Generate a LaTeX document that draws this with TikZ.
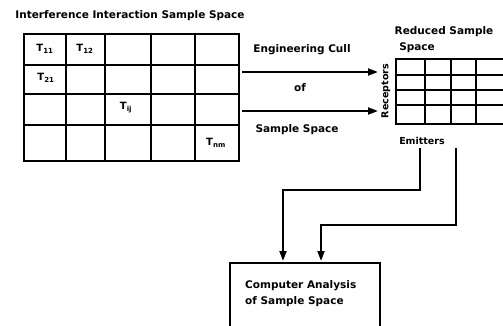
\documentclass[tikz,border=0pt]{standalone}
\usepackage{fontspec}
\setmainfont{DejaVu Sans}
\usetikzlibrary{arrows.meta}
\begin{document}
\begin{tikzpicture}[x=1pt,y=-1pt,
  lbl/.style={font=\bfseries\fontsize{10.5}{12}\selectfont, inner sep=0pt},
  cell/.style={font=\bfseries\fontsize{10}{12}\selectfont, inner sep=0pt},
  heavy/.style={line width=2pt},
  conn/.style={line width=2pt, -{Triangle[length=10pt,width=7pt]}},
  gridbox/.style={draw, line width=2pt, inner sep=0pt, anchor=north west}]
\useasboundingbox (0,0) rectangle (503,326);
% title
\node[lbl] (title) at (130,16) {Interference Interaction Sample Space};
% left grid
\node[gridbox, minimum width=215pt, minimum height=127pt] (G1) at (23,33) {};
\foreach \x in {66,105,151,195} \draw[heavy] (\x,33) -- (\x,160);
\foreach \y in {65,94,125} \draw[heavy] (23,\y) -- (238,\y);
\node[cell] (t11) at (45,49) {T\textsubscript{11}};
\node[cell] (t12) at (85,49) {T\textsubscript{12}};
\node[cell] (t21) at (46,78) {T\textsubscript{21}};
\node[cell] (tij) at (126,108) {T\textsubscript{ij}};
\node[cell] (tnm) at (216,143) {T\textsubscript{nm}};
% right grid
\node[gridbox, minimum width=112pt, minimum height=65pt] (G2) at (395,58) {};
\foreach \x in {425,451,476} \draw[heavy] (\x,58) -- (\x,123);
\foreach \y in {75,90,105} \draw[heavy] (395,\y) -- (507,\y);
\node[lbl] (red) at (444,32) {Reduced Sample};
\node[lbl] (spc) at (417,48) {Space};
\node[lbl, rotate=90, font=\bfseries\fontsize{9.5}{10}\selectfont] (rec) at (386,91) {Receptors};
\node[lbl, font=\bfseries\fontsize{9.5}{10}\selectfont] (emit) at (422,141) {Emitters};
% cull arrows
\coordinate (a1s) at (242,72);
\coordinate (a1e) at (378,72);
\coordinate (a2s) at (242,111);
\coordinate (a2e) at (378,111);
\draw[conn] (a1s) -- (a1e);
\draw[conn] (a2s) -- (a2e);
\node[lbl] (eng) at (302,50) {Engineering Cull};
\node[lbl] (of) at (300,88) {of};
\node[lbl] (ss) at (297,130) {Sample Space};
% computer analysis box
\node[draw, line width=2pt, anchor=north west, minimum width=150pt, minimum height=90pt, inner sep=0pt] (C) at (229,262) {};
\node[lbl, anchor=north west, align=left, font=\bfseries\fontsize{10.5}{16}\selectfont] (ctext) at (245,280) {Computer Analysis\\of Sample Space};
% emitter lines
\coordinate (e1) at (420,148);
\coordinate (e2) at (456,148);
\coordinate (c1) at (283,261);
\coordinate (c2) at (321,261);
\draw[conn] (e1) -- (420,190) -| (c1);
\draw[conn] (e2) -- (456,225) -| (c2);
\end{tikzpicture}
\end{document}
